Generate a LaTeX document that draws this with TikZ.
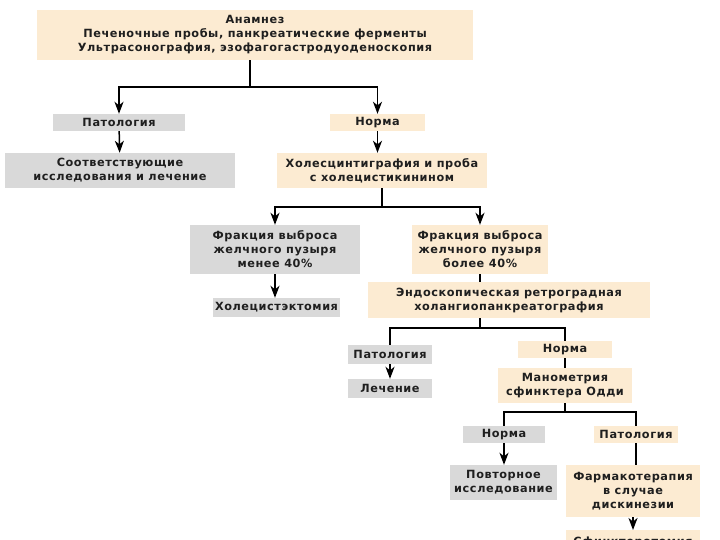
\documentclass[tikz,border=0pt]{standalone}
\usepackage{fontspec}
\setmainfont{DejaVu Sans}[LetterSpace=5]
\usepackage{tikz}
\usetikzlibrary{arrows.meta}
\definecolor{peach}{HTML}{FCEBD2}
\definecolor{greybox}{HTML}{D9D9D9}
\tikzset{
  box/.style={inner sep=0pt, align=center, text=black!88,
    font=\bfseries\fontsize{11.3}{14}\selectfont},
  normbox/.style={box, fill=peach},
  patbox/.style={box, fill=greybox},
  link/.style={line width=1.5pt},
  arr/.style={link, -{Stealth[length=12pt, width=9pt, inset=3.5pt]}}
}

\begin{document}
\begin{tikzpicture}[x=1pt, y=-1pt]
  \useasboundingbox (0,0) rectangle (720,540);
  \node[normbox, minimum width=436pt, minimum height=50pt] (anam) at (255,35)
    {Анамнез\\Печеночные пробы, панкреатические ферменты\\Ультрасонография, эзофагогастродуоденоскопия};
  \node[patbox, minimum width=132pt, minimum height=17pt] (pat1) at (119,122.5) {Патология};
  \node[normbox, minimum width=95pt, minimum height=17pt] (norm1) at (377.5,122.5) {Норма};
  \node[patbox, minimum width=230pt, minimum height=35pt] (sootv) at (120,170.5)
    {Соответствующие\\исследования и лечение};
  \node[normbox, minimum width=210pt, minimum height=35pt] (holes) at (382,170.5)
    {Холесцинтиграфия и проба\\с холецистикинином};
  \node[patbox, minimum width=170pt, minimum height=49pt] (frac1) at (275,249.5)
    {Фракция выброса\\желчного пузыря\\менее 40\%};
  \node[normbox, minimum width=136pt, minimum height=49pt] (frac2) at (480,249.5)
    {Фракция выброса\\желчного пузыря\\более 40\%};
  \node[patbox, minimum width=127pt, minimum height=19pt] (holec) at (276.5,307.5) {Холецистэктомия};
  \node[normbox, minimum width=282pt, minimum height=36pt] (ercp) at (509,300)
    {Эндоскопическая ретроградная\\холангиопанкреатография};
  \node[patbox, minimum width=84pt, minimum height=19pt] (pat2) at (390,354.5) {Патология};
  \node[patbox, minimum width=84pt, minimum height=19pt] (lech) at (390,388.5) {Лечение};
  \node[normbox, minimum width=94pt, minimum height=17pt] (norm2) at (565,349.5) {Норма};
  \node[normbox, minimum width=134pt, minimum height=35pt] (mano) at (565,385.5)
    {Манометрия\\сфинктера Одди};
  \node[patbox, minimum width=82pt, minimum height=17pt] (norm3) at (504,434.5) {Норма};
  \node[normbox, minimum width=84pt, minimum height=17pt] (pat3) at (636,434.5) {Патология};
  \node[patbox, minimum width=107pt, minimum height=35pt] (povt) at (503.5,482.5)
    {Повторное\\исследование};
  \node[normbox, minimum width=134pt, minimum height=52pt] (farm) at (633,491)
    {Фармакотерапия\\в случае\\дискинезии};
  \node[normbox, minimum width=134pt, minimum height=24pt, anchor=north] (sfin) at (633,530)
    {Сфинктеротомия};

  \coordinate (j1) at (250,87);
  \coordinate (j2) at (382,207);
  \coordinate (j3) at (480,328);
  \coordinate (j4) at (565,412);

  \draw[link] (j1 |- anam.south) -- (j1);
  \draw[arr] (j1) -| (pat1);
  \draw[arr] (j1) -| (norm1);
  \draw[arr] (pat1) -- (sootv);
  \draw[arr] (norm1) -- (norm1 |- holes.north);
  \draw[link] (holes.south) -- (j2);
  \draw[arr] (j2) -| (frac1);
  \draw[arr] (j2) -| (frac2);
  \draw[arr] (frac1) -- (frac1 |- holec.north);
  \draw[link] (frac2) -- (frac2 |- ercp.north);
  \draw[link] (j3 |- ercp.south) -- (j3);
  \draw[link] (j3) -| (pat2);
  \draw[link] (j3) -| (norm2);
  \draw[arr] (pat2) -- (lech);
  \draw[link] (norm2) -- (mano);
  \draw[link] (mano.south) -- (j4);
  \draw[link] (j4) -| (norm3);
  \draw[link] (j4) -| (pat3);
  \draw[arr] (norm3) -- (norm3 |- povt.north);
  \draw[link] (pat3) -- (pat3 |- farm.north);
  \draw[arr] (farm) -- (sfin);
\end{tikzpicture}
\end{document}
